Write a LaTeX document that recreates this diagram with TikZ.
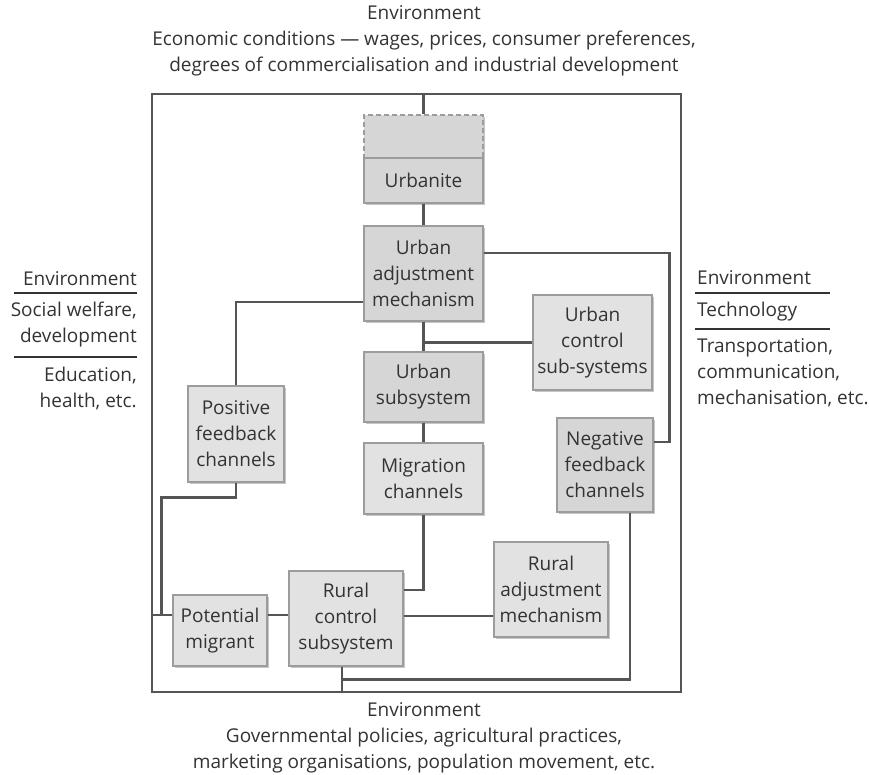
\documentclass[tikz,border=0pt]{standalone}
\usepackage{fontspec}
\setmainfont{Open Sans}
\usetikzlibrary{positioning, calc, shadows}

\definecolor{inkgrey}{HTML}{333333}
\definecolor{linkgrey}{HTML}{555555}
\definecolor{boxdark}{HTML}{D6D6D6}
\definecolor{boxlight}{HTML}{E2E2E2}
\definecolor{boxedge}{HTML}{9C9C9C}

\begin{document}
\begin{tikzpicture}[
  x=1pt, y=-1pt,
  font=\fontsize{19}{26}\selectfont, text=inkgrey,
  unit/.style={draw=boxedge, fill=boxlight, line width=1.2pt, align=center,
    inner sep=2pt, minimum width=119pt,
    drop shadow={shadow xshift=1.8pt, shadow yshift=-1.8pt, fill=gray!45, opacity=1}},
  darkunit/.style={unit, fill=boxdark},
  link/.style={draw=linkgrey, line width=2.3pt},
  rule/.style={draw=inkgrey, line width=1.3pt},
  envtext/.style={align=center, inner sep=0pt, font=\fontsize{19}{26}\selectfont}
]
\useasboundingbox (0,0) rectangle (869,774);

% --- the system boundary ---
\coordinate (ftl) at (152,94);
\coordinate (fbr) at (681,692);
\draw[link] (ftl) rectangle (fbr);

% --- urban side ---
\node[darkunit, dash pattern=on 5pt off 3pt, minimum height=43pt] (hidden) at (423.5,136.5) {};
\node[darkunit, minimum height=45pt] (urbanite) at (423.5,180.5) {Urbanite};
\node[darkunit, minimum height=95pt] (uam) at (423.5,273.5)
  {Urban\\adjustment\\mechanism};
\node[unit, minimum height=95pt] (ucs) at (592.5,342.5)
  {Urban\\control\\sub-systems};
\node[darkunit, minimum height=70pt] (usub) at (423.5,387) {Urban\\subsystem};
\node[unit, minimum height=71pt] (mig) at (423.5,478.5) {Migration\\channels};

% --- feedback channels ---
\node[unit, minimum width=96pt, minimum height=96pt] (pfc) at (236,434)
  {Positive\\feedback\\channels};
\node[darkunit, minimum width=96pt, minimum height=94pt] (nfc) at (605,465)
  {Negative\\feedback\\channels};

% --- rural side ---
\node[unit, minimum width=94pt, minimum height=71pt] (pm) at (220,630.5)
  {Potential\\migrant};
\node[unit, minimum width=114pt, minimum height=95pt] (rcs) at (346,618.5)
  {Rural\\control\\subsystem};
\node[unit, minimum width=114pt, minimum height=95pt] (rad) at (551,589.5)
  {Rural\\adjustment\\mechanism};

% --- links ---
\draw[link] (hidden.north) -- (hidden.north |- ftl);
\draw[link] (urbanite.south) -- (uam.north);
\draw[link] (uam.south) -- (usub.north);
\draw[link] (usub.south) -- (mig.north);
\draw[link] (ucs.west) -- (ucs.west -| uam.south);
\draw[link] ([yshift=20.5pt]uam.east) -- ++(186,0) |- ([yshift=23pt]nfc.east);
\draw[link] (pfc.north) |- ([yshift=-28.5pt]uam.west);
\draw[link] (mig.south) |- ([yshift=28.5pt]rcs.east);

\coordinate (pjoin) at ([xshift=-11pt, yshift=15.5pt]pm.west);
\draw[link] ([yshift=15.5pt]pm.west) -- ([yshift=15.5pt]pm.west -| ftl);
\draw[link] (pfc.south) -- ++(0,15) -| (pjoin);
\draw[link] ([yshift=15.5pt]pm.east) -- ([yshift=15.5pt]pm.east -| rcs.west);
\draw[link] ([yshift=2.5pt]rcs.east) -- ([yshift=2.5pt]rcs.east -| rad.west);
\draw[link] ([xshift=-4pt]rcs.south) -- ([xshift=-4pt]rcs.south |- fbr);
\draw[link] ([xshift=25pt]nfc.south) |- ([xshift=-4pt, yshift=-13pt]rcs.south);

% --- environment, top and bottom ---
\node[envtext] (envtop) at (424,41)
  {Environment\\Economic conditions --- wages, prices, consumer preferences,\\
   degrees of commercialisation and industrial development};
\node[envtext] (envbot) at (424,738)
  {Environment\\Governmental policies, agricultural practices,\\
   marketing organisations, population movement, etc.};

% --- environment, left ---
\node[envtext, anchor=east] (lenv) at (137,279) {Environment};
\node[envtext, align=right, anchor=east] (lsoc) at (137,325)
  {Social welfare,\\development};
\node[envtext, align=right, anchor=east] (ledu) at (137,388)
  {Education,\\health, etc.};
\draw[rule] (14,293) -- (137,293);
\draw[rule] (14,357) -- (137,357);

% --- environment, right ---
\node[envtext, anchor=west] (renv) at (697,278) {Environment};
\node[envtext, anchor=west] (rtec) at (697,312) {Technology};
\node[envtext, align=left, anchor=west] (rtra) at (697,373)
  {Transportation,\\communication,\\mechanisation, etc.};
\draw[rule] (695,293) -- (830,293);
\draw[rule] (695,329) -- (830,329);

\end{tikzpicture}
\end{document}
